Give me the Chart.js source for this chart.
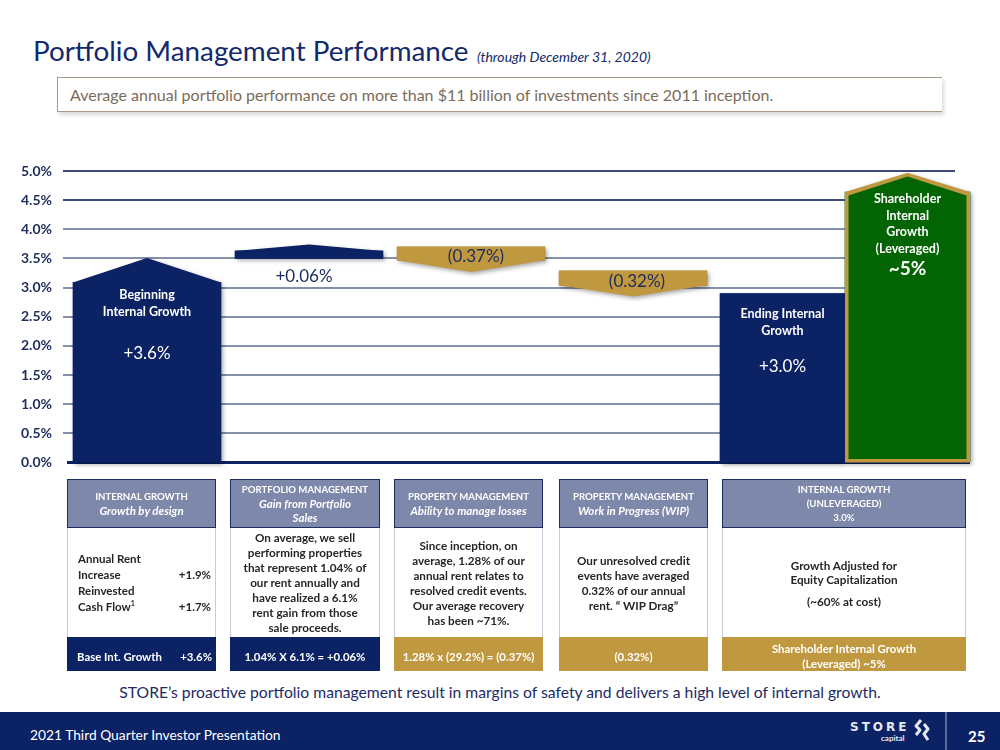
<!DOCTYPE html>
<html><head><meta charset="utf-8">
<script src="https://cdn.jsdelivr.net/npm/chart.js@4.4.0/dist/chart.umd.min.js"></script>
<style>
html,body{margin:0;padding:0;width:1000px;height:750px;overflow:hidden;background:#fff;font-family:Lato,"Open Sans",sans-serif;}
.abs{position:absolute;white-space:nowrap;line-height:1;}
#title{left:33px;top:37px;font-size:27.8px;color:#12296b;}
#sub{left:477px;top:50px;font-size:14px;font-style:italic;color:#12296b;}
#box{position:absolute;left:57px;top:77px;width:885px;height:35px;box-sizing:border-box;border-top:1.5px solid #a89a86;border-bottom:1.5px solid #a89a86;border-left:1.5px solid #a89a86;box-shadow:2px 3px 4px rgba(0,0,0,0.15);}
#boxtxt{left:70px;top:87px;font-size:16px;color:#7a6c5a;}
#chartwrap{position:absolute;left:0;top:150px;width:1000px;height:332px;}
.col{position:absolute;top:479px;height:192px;}
.hd{position:absolute;left:0;right:0;top:0;height:49px;background:#7d88aa;border:1px solid #1d2c5e;box-sizing:border-box;color:#fff;font-weight:700;font-size:9.6px;line-height:14px;display:flex;flex-direction:column;justify-content:center;align-items:center;text-align:center;}
.hd i{font-size:11.5px;}
.bd{position:absolute;left:0;right:0;top:49px;height:109px;border-left:1px solid #c9ccd8;border-right:1px solid #c9ccd8;box-sizing:border-box;color:#262626;font-weight:700;font-size:11.7px;line-height:15px;display:flex;flex-direction:column;justify-content:center;align-items:center;text-align:center;}
.ft{position:absolute;left:0;right:0;top:158px;height:34px;box-sizing:border-box;padding-top:4px;color:#fff;font-weight:700;font-size:11.4px;line-height:15px;display:flex;flex-direction:column;justify-content:center;align-items:center;text-align:center;}
.navy{background:#0b2265;}
.gold{background:#c0983f;}
.row2{display:flex;justify-content:space-between;width:100%;box-sizing:border-box;padding:0 4px 0 10px;}
#bottomtxt{left:0;width:1000px;text-align:center;top:685px;font-size:15.7px;color:#1c2b66;}
#footer{position:absolute;left:0;top:712px;width:1000px;height:38px;background:#0b2265;}
#foottxt{left:30px;top:728px;font-size:13.8px;color:#fff;}
#sep{position:absolute;left:945px;top:712px;width:2px;height:38px;background:#5a6a99;}
#pg{left:968px;top:729px;font-size:15px;font-weight:700;color:#fff;}
#logo1{left:850px;top:721px;font-size:12px;font-weight:700;letter-spacing:3px;color:#e6e9f2;font-family:"DejaVu Sans",sans-serif;}
#logo2{left:881px;top:734px;font-size:8px;font-weight:700;color:#e6e9f2;}
</style></head>
<body>
<div id="title" class="abs">Portfolio Management Performance</div>
<div id="sub" class="abs">(through December 31, 2020)</div>
<div id="box"></div>
<div id="boxtxt" class="abs">Average annual portfolio performance on more than $11 billion of investments since 2011 inception.</div>
<div id="chartwrap"><canvas id="c" width="1000" height="332"></canvas></div>

<div class="col" style="left:67px;width:149px;">
  <div class="hd"><span>INTERNAL GROWTH</span><i>Growth by design</i></div>
  <div class="bd" style="align-items:stretch;text-align:left;line-height:16px;font-size:11.5px;">
    <div class="row2"><span>Annual Rent</span><span></span></div>
    <div class="row2"><span>Increase</span><span>+1.9%</span></div>
    <div class="row2"><span>Reinvested</span><span></span></div>
    <div class="row2"><span>Cash Flow<sup style="font-size:7px;line-height:0">1</sup></span><span>+1.7%</span></div>
  </div>
  <div class="ft navy" style="align-items:stretch;"><div class="row2"><span>Base Int. Growth</span><span>+3.6%</span></div></div>
</div>
<div class="col" style="left:230px;width:150px;">
  <div class="hd"><span>PORTFOLIO MANAGEMENT</span><i>Gain from Portfolio</i><i>Sales</i></div>
  <div class="bd">On average, we sell<br>performing properties<br>that represent 1.04% of<br>our rent annually and<br>have realized a 6.1%<br>rent gain from those<br>sale proceeds.</div>
  <div class="ft navy">1.04% X 6.1% = +0.06%</div>
</div>
<div class="col" style="left:394px;width:149px;">
  <div class="hd"><span>PROPERTY MANAGEMENT</span><i>Ability to manage losses</i></div>
  <div class="bd">Since inception, on<br>average, 1.28% of our<br>annual rent relates to<br>resolved credit events.<br>Our average recovery<br>has been ~71%.</div>
  <div class="ft gold">1.28% x (29.2%) = (0.37%)</div>
</div>
<div class="col" style="left:559px;width:149px;">
  <div class="hd"><span>PROPERTY MANAGEMENT</span><i>Work in Progress (WIP)</i></div>
  <div class="bd">Our unresolved credit<br>events have averaged<br>0.32% of our annual<br>rent. “ WIP Drag”</div>
  <div class="ft gold">(0.32%)</div>
</div>
<div class="col" style="left:722px;width:244px;">
  <div class="hd"><span>INTERNAL GROWTH</span><span>(UNLEVERAGED)</span><span>3.0%</span></div>
  <div class="bd" style="line-height:14px;"><span>Growth Adjusted for</span><span>Equity Capitalization</span><span style="margin-top:8px;">(~60% at cost)</span></div>
  <div class="ft gold"><span>Shareholder Internal Growth</span><span>(Leveraged) ~5%</span></div>
</div>

<div id="bottomtxt" class="abs">STORE’s proactive portfolio management result in margins of safety and delivers a high level of internal growth.</div>
<div id="footer"></div>
<div id="foottxt" class="abs">2021 Third Quarter Investor Presentation</div>
<div id="logo1" class="abs">STORE</div>
<div id="logo2" class="abs">capital</div>
<svg style="position:absolute;left:912px;top:718px" width="20" height="24" viewBox="0 0 20 24">
  <path d="M9 2 L4 8 L8 12 L4 17" stroke="#e6e9f2" stroke-width="3" fill="none" stroke-linejoin="round"/>
  <path d="M12 6 L16 11 L12 16 L16 22" stroke="#e6e9f2" stroke-width="3" fill="none" stroke-linejoin="round"/>
</svg>
<div id="sep"></div>
<div id="pg" class="abs">25</div>

<script>
// ---- data ----
const categories = ['Beginning Internal Growth','Portfolio Management','Property Management (Losses)','Property Management (WIP)','Ending Internal Growth','Shareholder Internal Growth (Leveraged)'];
const bodyLow  = [0,    3.50, 3.47, 3.04, 0,    0];
const bodyHigh = [3.09, 3.63, 3.70, 3.29, 2.90, 4.64];
const arrowTip = [3.51, 3.74, 3.27, 2.85, null, 4.97];
const barTitles = [['Beginning','Internal Growth'], [], [], [], ['Ending Internal','Growth'], ['Shareholder','Internal','Growth','(Leveraged)']];
const barValueLabels = ['+3.6%','+0.06%','(0.37%)','(0.32%)','+3.0%','~5%'];
const yTickMin = 0, yTickMax = 5, yTickStep = 0.5;
const stepIdx = [0,1,2,3];   // starting level + changes
const totalIdx = [4,5];      // resulting levels

// ---- styles ----
const NAVY = '#0b2265', GOLD = '#c0983f', GREEN = '#036403';
const fillColors = [NAVY, NAVY, GOLD, GOLD, NAVY, GREEN];
const labelStyle = [
  {titleDy:13, lineH:17, valueDy:71, valueColor:'#fff', valueFont:'400 17px Lato', anchor:'top', dx:0},
  {valueDy:18, valueColor:'#1c2b5e', valueFont:'400 17px Lato', anchor:'low', dx:-5},
  {valueDy:10, valueColor:'#1c2b5e', valueFont:'400 17px Lato', anchor:'top', dx:5},
  {valueDy:11, valueColor:'#1c2b5e', valueFont:'400 17px Lato', anchor:'top', dx:4},
  {titleDy:20, lineH:17, valueDy:73, valueColor:'#fff', valueFont:'400 17px Lato', anchor:'top', dx:0},
  {titleDy:7, lineH:16.7, valueDy:77, valueColor:'#fff', valueFont:'700 19px Lato', anchor:'top', dx:0}
];

const shapePlugin = {
  id:'shapes',
  beforeDatasetsDraw(chart){
    const ctx = chart.ctx, y = chart.scales.y;
    const m = chart.getDatasetMeta(1).data;
    const last = m[m.length-1];
    const right = last.x + last.width/2;
    const py = y.getPixelForValue(0);
    ctx.save();
    ctx.strokeStyle = NAVY; ctx.lineWidth = 3;
    ctx.beginPath(); ctx.moveTo(chart.chartArea.left+4, py); ctx.lineTo(right, py); ctx.stroke();
    ctx.restore();
  },
  afterDatasetsDraw(chart){
    const ctx = chart.ctx, y = chart.scales.y;
    [stepIdx, totalIdx].forEach((idxs, di) => {
      const meta = chart.getDatasetMeta(di);
      meta.data.forEach((el, j) => {
        const k = idxs[j];
        const x = el.x, w = el.width;
        const path = (inset) => {
          const l = x - w/2 + inset, r = x + w/2 - inset;
          const top = y.getPixelForValue(bodyHigh[k]) + inset;
          const bot = y.getPixelForValue(bodyLow[k]) - inset;
          ctx.beginPath();
          if (arrowTip[k] == null) { ctx.rect(l, top, r-l, bot-top); }
          else if (arrowTip[k] > bodyHigh[k]) {
            const t = y.getPixelForValue(arrowTip[k]) + inset*1.1;
            ctx.moveTo(l,bot); ctx.lineTo(l,top); ctx.lineTo(x,t); ctx.lineTo(r,top); ctx.lineTo(r,bot);
          } else {
            const t = y.getPixelForValue(arrowTip[k]);
            ctx.moveTo(l,top); ctx.lineTo(r,top); ctx.lineTo(r,bot); ctx.lineTo(x,t); ctx.lineTo(l,bot);
          }
          ctx.closePath();
        };
        ctx.save();
        ctx.shadowColor = 'rgba(0,0,0,0.35)'; ctx.shadowBlur = 4; ctx.shadowOffsetX = 2; ctx.shadowOffsetY = 2;
        path(0);
        ctx.fillStyle = (k === 5) ? GOLD : fillColors[k];
        ctx.fill();
        ctx.restore();
        if (k === 5) { ctx.save(); path(3.5); ctx.fillStyle = GREEN; ctx.fill(); ctx.restore(); }

        // labels
        const st = labelStyle[k];
        const topPx = y.getPixelForValue(bodyHigh[k]);
        const lowPx = y.getPixelForValue(bodyLow[k]);
        const base = st.anchor === 'low' ? lowPx : topPx;
        ctx.save();
        ctx.textAlign = 'center'; ctx.textBaseline = 'middle';
        (barTitles[k] || []).forEach((line, n) => {
          ctx.fillStyle = '#fff'; ctx.font = '700 12.5px Lato';
          ctx.fillText(line, x + st.dx, base + st.titleDy + n*st.lineH);
        });
        ctx.fillStyle = st.valueColor; ctx.font = st.valueFont;
        ctx.fillText(barValueLabels[k], x + st.dx, base + st.valueDy);
        ctx.restore();
      });
    });
  }
};

const mkData = idxs => idxs.map((k, i) => ({x: i, y: [bodyLow[k], bodyHigh[k]]}));

new Chart(document.getElementById('c'), {
  type: 'bar',
  data: {
    datasets: [
      {label: 'Steps', xAxisID: 'xSteps', data: mkData(stepIdx), backgroundColor: stepIdx.map(k => fillColors[k]), barThickness: 148, borderWidth: 0, grouped: false},
      {label: 'Totals', xAxisID: 'xTotals', data: mkData(totalIdx), backgroundColor: totalIdx.map(k => fillColors[k]), barThickness: 125, borderWidth: 0, grouped: false, clip: false}
    ]
  },
  options: {
    responsive: false, animation: false, devicePixelRatio: 1,
    layout: {padding: {left: 20, top: 21, right: 45, bottom: 0}},
    plugins: {legend: {display: false}, tooltip: {enabled: false}},
    scales: {
      xSteps: {type: 'linear', display: false, offset: false, min: -0.5185, max: 4.9877},
      xTotals: {type: 'linear', display: false, offset: false, min: -5.756, max: 1.380},
      y: {
        min: yTickMin, max: yTickMax,
        ticks: {stepSize: yTickStep, padding: 11, color: '#1f2d5c', font: {family: 'Lato', weight: 'bold', size: 14},
                callback: v => v.toFixed(1) + '%'},
        grid: {drawTicks: false, lineWidth: 2,
               color: c => c.tick.value === 0 ? 'rgba(0,0,0,0)' : (c.tick.value >= 4.5 ? '#3d4a78' : '#8490ac')},
        border: {display: false},
        afterFit: s => { s.width = 43; }
      }
    }
  },
  plugins: [shapePlugin]
});
</script>
</body></html>
